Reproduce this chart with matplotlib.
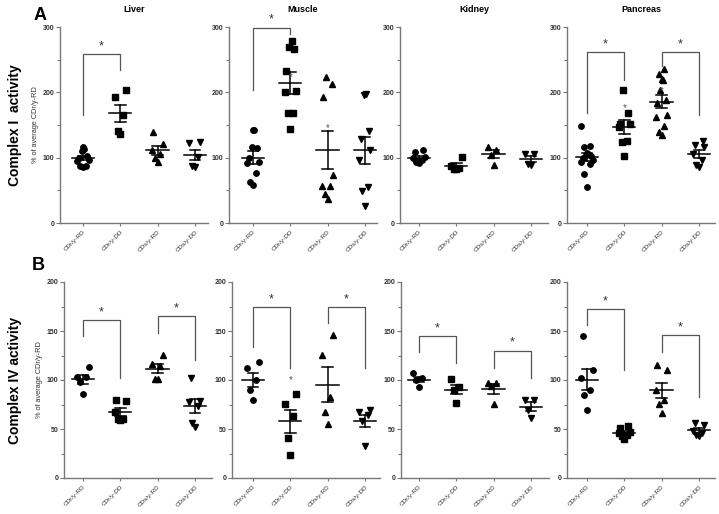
import numpy as np
import matplotlib.pyplot as plt

plt.rcParams['font.family'] = ['Liberation Sans', 'DejaVu Sans']

groups = ["CDr/y-RD", "CDr/y-DD", "CDs/y-RD", "CDs/y-DD"]
tissues = ["Liver", "Muscle", "Kidney", "Pancreas"]
markers = ["o", "s", "^", "v"]

# Complex I activity (% of average CDr/y-RD)
c1_liver = [[117, 113, 110, 103, 100, 97, 95, 88, 87, 86],
            [204, 193, 165, 141, 136],
            [139, 121, 111, 105, 100, 93],
            [124, 122, 101, 88, 86]]
c1_muscle = [[143, 143, 117, 115, 100, 93, 92, 77, 63, 58],
             [278, 269, 267, 233, 202, 200, 169, 168, 144],
             [224, 213, 193, 73, 57, 57, 44, 36],
             [197, 196, 141, 128, 111, 97, 55, 49, 26]]
c1_kidney = [[111, 108, 101, 99, 97, 93, 92],
             [101, 88, 84, 83, 82],
             [116, 112, 104, 89],
             [106, 105, 91, 89]]
c1_pancreas = [[148, 118, 116, 107, 105, 104, 103, 100, 97, 93, 91, 75, 55],
               [204, 168, 152, 151, 147, 126, 124, 102],
               [236, 228, 220, 219, 203, 188, 184, 166, 162, 148, 140, 135],
               [126, 119, 116, 105, 96, 89, 85]]

# Complex IV activity (% of average CDr/y-RD)
c4_liver = [[113, 103, 103, 98, 86],
            [80, 79, 67, 60, 60, 59],
            [126, 116, 114, 101, 101],
            [102, 79, 78, 73, 56, 52]]
c4_muscle = [[118, 112, 100, 90, 80],
             [86, 76, 63, 41, 23],
             [146, 126, 83, 67, 55],
             [69, 67, 64, 58, 33]]
c4_kidney = [[107, 102, 100, 93],
             [101, 93, 90, 77],
             [97, 97, 94, 76],
             [80, 80, 69, 61]]
c4_pancreas = [[145, 110, 102, 90, 85, 69],
               [53, 51, 47, 46, 44, 43, 40],
               [115, 110, 90, 80, 76, 66],
               [56, 54, 48, 46, 44, 43]]

# brackets: (group a, group b, top, left leg end, right leg end)
br_c1 = {"Liver": [(0, 1, 259, 165, 234)],
         "Muscle": [(0, 1, 299, 204, 290)],
         "Kidney": [],
         "Pancreas": [(0, 1, 262, 168, 219), (2, 3, 262, 240, 166)]}
br_c4 = {"Liver": [(0, 1, 161, 145, 102), (2, 3, 165, 148, 120)],
         "Muscle": [(0, 1, 174, 134, 112), (2, 3, 174, 158, 112)],
         "Kidney": [(0, 1, 145, 129, 117), (2, 3, 130, 112, 102)],
         "Pancreas": [(0, 1, 172, 156, 110), (2, 3, 146, 129, 83)]}

# small asterisks sitting on some groups: (tissue, group, value)
inner_c1 = [("Muscle", 1, 223), ("Muscle", 2, 145), ("Pancreas", 1, 176), ("Pancreas", 2, 202)]
inner_c4 = [("Muscle", 1, 100)]

rows = [
    ([c1_liver, c1_muscle, c1_kidney, c1_pancreas], br_c1, inner_c1, 300, 100, 50),
    ([c4_liver, c4_muscle, c4_kidney, c4_pancreas], br_c4, inner_c4, 200, 50, 25),
]

W, H = 719, 514
fig = plt.figure(figsize=(W / 100, H / 100), dpi=100)

axis_px = [[60, 229, 400, 567], [64, 232, 401, 567]]
cat0_px = [83, 253, 419, 587]
spacing = 37.3
ax_w = 148
row_top = [27, 282]
row_h = 196

def jitter(vals, step=0.075):
    order = np.argsort(vals)
    offs = np.zeros(len(vals))
    pattern = [0, -1, 1, -2, 2, -1.5, 1.5, -0.5, 0.5]
    for k, i in enumerate(order):
        offs[i] = pattern[k % len(pattern)] * step
    return offs

for r, (data, brackets, inner, ymax, major, minor) in enumerate(rows):
    for c, tissue in enumerate(tissues):
        L = axis_px[r][c]
        ax = fig.add_axes([L / W, 1 - (row_top[r] + row_h) / H, ax_w / W, row_h / H])
        x0 = (L - cat0_px[c]) / spacing
        ax.set_xlim(x0, x0 + ax_w / spacing)
        ax.set_ylim(0, ymax)
        for g, vals in enumerate(data[c]):
            vals = np.array(vals, dtype=float)
            xs = g + jitter(vals)
            ax.plot(xs, vals, linestyle='none', marker=markers[g], ms=3.9,
                    color='black', mec='black', clip_on=False, zorder=3)
            m = vals.mean()
            sem = vals.std(ddof=1) / np.sqrt(len(vals))
            ax.plot([g - 0.3, g + 0.3], [m, m], color='black', lw=1.1, zorder=4)
            ax.plot([g, g], [m - sem, m + sem], color='black', lw=1.1, zorder=4)
            ax.plot([g - 0.14, g + 0.14], [m + sem, m + sem], color='black', lw=1.1, zorder=4)
            ax.plot([g - 0.14, g + 0.14], [m - sem, m - sem], color='black', lw=1.1, zorder=4)
        for (a, b, top, la, lb) in brackets[tissue]:
            ax.plot([a, a, b, b], [la, top, top, lb], color='#555555', lw=0.9,
                    clip_on=False, zorder=2)
            ax.text((a + b) / 2, top + ymax * 0.04, '*', ha='center', va='center',
                    fontsize=9, color='#333333', clip_on=False)
        for (t, g, v) in inner:
            if t == tissue:
                ax.text(g, v, '*', ha='center', va='center', fontsize=7,
                        color='#555555', zorder=5)
        for s in ['top', 'right']:
            ax.spines[s].set_visible(False)
        for s in ['left', 'bottom']:
            ax.spines[s].set_color('#777777')
            ax.spines[s].set_linewidth(1.0)
        ax.set_yticks(np.arange(0, ymax + 1, major))
        ax.set_yticks(np.arange(minor, ymax, major), minor=True)
        ax.tick_params(axis='y', which='major', length=3, width=0.8, color='#777777',
                       labelsize=5, pad=1, labelcolor='#333333')
        ax.tick_params(axis='y', which='minor', length=2, width=0.8, color='#777777')
        for lab in ax.get_yticklabels():
            lab.set_fontweight('bold')
        ax.set_xticks(range(4))
        ax.set_xticklabels(groups, rotation=45, ha='right', rotation_mode='anchor',
                           fontsize=4.6, color='#333333')
        ax.tick_params(axis='x', length=2.5, width=0.8, color='#777777', pad=2)
        if r == 0:
            ax.set_title(tissue, fontsize=6.5, fontweight='bold', pad=11)
        if c == 0:
            ax.set_ylabel('% of average CDr/y-RD', fontsize=5.3, labelpad=3,
                          color='#333333')

fig.text(40 / W, 1 - 16 / H, 'A', fontsize=13, fontweight='bold', ha='center', va='center')
fig.text(38 / W, 1 - 265 / H, 'B', fontsize=13, fontweight='bold', ha='center', va='center')
fig.text(15 / W, 1 - 125 / H, 'Complex I  activity', fontsize=10, fontweight='bold',
         rotation=90, ha='center', va='center')
fig.text(15 / W, 1 - 380 / H, 'Complex IV activity', fontsize=10, fontweight='bold',
         rotation=90, ha='center', va='center')

fig.savefig('out.png', dpi=100)
